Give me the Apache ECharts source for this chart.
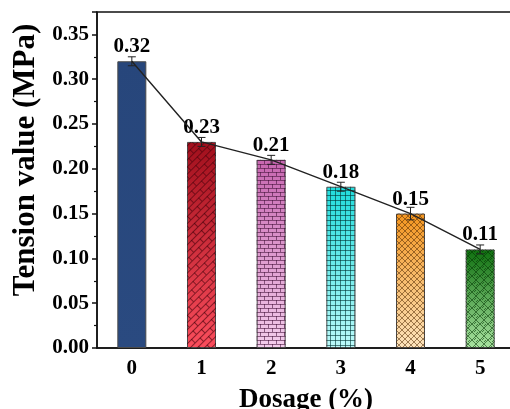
<!DOCTYPE html>
<html>
<head>
<meta charset="utf-8">
<script src="https://cdn.jsdelivr.net/npm/echarts@6/dist/echarts.min.js"></script>
<style>
  html, body { margin: 0; padding: 0; background: #fff; }
  #main { width: 510px; height: 409px; }
</style>
</head>
<body>
<div id="main"></div>
<script>
// data
var dosage = ['0', '1', '2', '3', '4', '5'];
var tension = [0.32, 0.23, 0.21, 0.18, 0.15, 0.11];
var tensionErr = [0.005, 0.005, 0.005, 0.005, 0.007, 0.005];
var yTicks = [0, 0.05, 0.1, 0.15, 0.2, 0.25, 0.3, 0.35];

var FONT = "'Liberation Serif', 'Times New Roman', serif";

// 填充渐变 (top -> bottom)
var fills = [
  ['#27467b', '#2a4a80'],
  ['#a10f1c', '#fa4d5c'],
  ['#c766b0', '#f4cdec'],
  ['#1fdcdc', '#bdfafa'],
  ['#f3951f', '#fde4bd'],
  ['#0f700f', '#a9e3a1']
];

function grad(c) {
  return new echarts.graphic.LinearGradient(0, 0, 0, 1, [
    {offset: 0, color: c[0]},
    {offset: 1, color: c[1]}
  ]);
}

// 纹理 tile
function tile(w, h, draw) {
  var cvs = document.createElement('canvas');
  cvs.width = w;
  cvs.height = h;
  var ctx = cvs.getContext('2d');
  ctx.lineWidth = 1;
  draw(ctx, w, h);
  return cvs;
}

function brick(color, w, h) {
  return tile(w, h, function (ctx) {
    ctx.strokeStyle = color;
    ctx.beginPath();
    ctx.moveTo(0, 0.5); ctx.lineTo(w, 0.5);
    ctx.moveTo(0, h / 2 + 0.5); ctx.lineTo(w, h / 2 + 0.5);
    ctx.moveTo(0.5, 0); ctx.lineTo(0.5, h / 2);
    ctx.moveTo(w / 2 + 0.5, h / 2); ctx.lineTo(w / 2 + 0.5, h);
    ctx.stroke();
  });
}

var patterns = [
  null,
  {image: brick('rgba(70,0,10,0.6)', 14, 10), repeat: 'repeat', rotation: -Math.PI / 4},
  {image: brick('rgba(70,20,60,0.6)', 8, 8), repeat: 'repeat'},
  {image: tile(5, 5, function (ctx) {
    ctx.strokeStyle = 'rgba(0,50,50,0.6)';
    ctx.beginPath();
    ctx.moveTo(0, 0.5); ctx.lineTo(5, 0.5);
    ctx.moveTo(0.5, 0); ctx.lineTo(0.5, 5);
    ctx.stroke();
  }), repeat: 'repeat'},
  {image: tile(6, 6, function (ctx) {
    ctx.strokeStyle = 'rgba(80,40,0,0.55)';
    ctx.beginPath();
    ctx.moveTo(0, 0); ctx.lineTo(6, 6);
    ctx.moveTo(6, 0); ctx.lineTo(0, 6);
    ctx.stroke();
  }), repeat: 'repeat'},
  {image: tile(8, 8, function (ctx) {
    ctx.strokeStyle = 'rgba(0,50,0,0.55)';
    ctx.beginPath();
    ctx.moveTo(0, 4); ctx.lineTo(4, 0);
    ctx.moveTo(4, 8); ctx.lineTo(8, 4);
    ctx.moveTo(4, 0); ctx.lineTo(8, 4);
    ctx.moveTo(0, 4); ctx.lineTo(4, 8);
    ctx.moveTo(2, 4); ctx.lineTo(4, 2);
    ctx.moveTo(6, 4); ctx.lineTo(4, 6);
    ctx.stroke();
  }), repeat: 'repeat'}
];

var baseData = tension.map(function (v, i) {
  return {value: v, itemStyle: {color: grad(fills[i])}};
});
var patternData = tension.map(function (v, i) {
  return {value: v, itemStyle: {color: patterns[i] || 'rgba(0,0,0,0)'}};
});
var errData = tension.map(function (v, i) {
  return [i, v, tensionErr[i]];
});

var myChart = echarts.init(document.getElementById('main'));

var option = {
  animation: false,
  backgroundColor: '#fff',
  grid: {
    left: 97, top: 12, right: -5, bottom: 61,
    outerBoundsMode: 'none',
    containLabel: false,
    show: true, borderColor: '#111', borderWidth: 1.5, backgroundColor: 'transparent'
  },
  xAxis: {
    type: 'category',
    data: dosage,
    name: 'Dosage (%)',
    nameLocation: 'middle',
    nameGap: 39,
    nameTextStyle: {fontFamily: FONT, fontWeight: 'bold', fontSize: 27, color: '#000'},
    axisLine: {lineStyle: {color: '#111', width: 1.5}},
    axisTick: {alignWithLabel: true, length: 5, lineStyle: {color: '#111', width: 1.5}},
    axisLabel: {fontFamily: FONT, fontWeight: 'bold', fontSize: 21, color: '#000', margin: 10}
  },
  yAxis: {
    type: 'value',
    min: 0,
    max: 0.375,
    interval: 0.05,
    name: 'Tension value (MPa)',
    nameLocation: 'middle',
    nameGap: 56,
    nameTextStyle: {fontFamily: FONT, fontWeight: 'bold', fontSize: 31, color: '#000', padding: [0, 0, 0, 40]},
    splitLine: {show: false},
    axisLine: {show: true, lineStyle: {color: '#111', width: 1.5}},
    axisTick: {show: true, length: 5, lineStyle: {color: '#111', width: 1.5}},
    minorTick: {show: true, splitNumber: 2, length: 3, lineStyle: {color: '#111', width: 1.2}},
    axisLabel: {
      fontFamily: FONT, fontWeight: 'bold', fontSize: 21, color: '#000', margin: 8,
      formatter: function (v) {
        for (var i = 0; i < yTicks.length; i++) {
          if (Math.abs(yTicks[i] - v) < 1e-6) return yTicks[i].toFixed(2);
        }
        return '';
      }
    }
  },
  series: [
    {
      name: 'fill',
      type: 'bar',
      data: baseData,
      barWidth: 29,
      z: 2,
      itemStyle: {borderColor: '#4a4a4a', borderWidth: 1}
    },
    {
      name: 'pattern',
      type: 'bar',
      data: patternData,
      barWidth: 29,
      barGap: '-100%',
      z: 3,
      label: {
        show: true,
        position: 'top',
        distance: 4,
        fontFamily: FONT,
        fontWeight: 'bold',
        fontSize: 21,
        color: '#000',
        formatter: function (p) { return p.value.toFixed(2); }
      }
    },
    {
      name: 'line',
      type: 'line',
      data: tension,
      z: 5,
      showSymbol: false,
      lineStyle: {color: '#222', width: 1.4}
    },
    {
      //误差棒
      name: 'err',
      type: 'custom',
      z: 6,
      data: errData,
      renderItem: function (params, api) {
        var x = api.value(0);
        var v = api.value(1);
        var e = api.value(2);
        var hi = api.coord([x, v + e]);
        var lo = api.coord([x, v - e]);
        var hw = 4;
        var st = {stroke: '#222', lineWidth: 1};
        return {
          type: 'group',
          children: [
            {type: 'line', shape: {x1: hi[0], y1: hi[1], x2: lo[0], y2: lo[1]}, style: st},
            {type: 'line', shape: {x1: hi[0] - hw, y1: hi[1], x2: hi[0] + hw, y2: hi[1]}, style: st},
            {type: 'line', shape: {x1: lo[0] - hw, y1: lo[1], x2: lo[0] + hw, y2: lo[1]}, style: st}
          ]
        };
      }
    }
  ]
};

myChart.setOption(option);
</script>
</body>
</html>
